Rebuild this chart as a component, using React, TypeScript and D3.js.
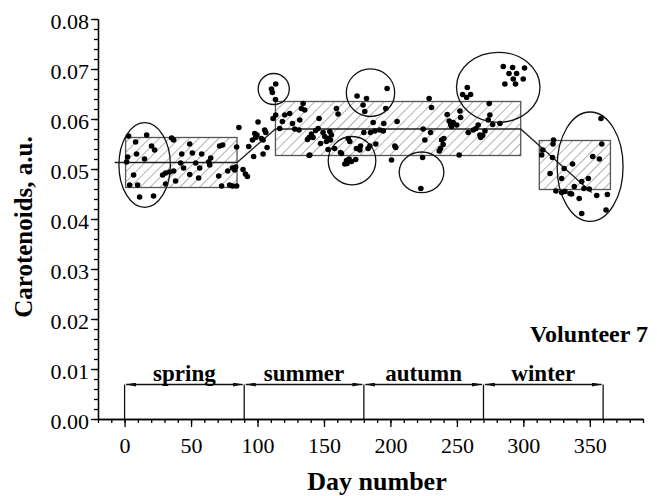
import React, { useEffect, useRef } from "react";
import * as d3 from "d3";

// [day, carotenoids]
const springPts: [number, number][] = [
  [3, 0.0566], [16.6, 0.0568], [8.3, 0.0554], [20.3, 0.0546], [22.6, 0.0538], [9, 0.053], [15, 0.052],
  [2.3, 0.0524], [1.5, 0.0514], [6.8, 0.0488], [3.8, 0.0468], [9.8, 0.0468], [11.3, 0.0444], [21.8, 0.0446],
  [35.4, 0.0562], [36.9, 0.0558], [49, 0.055], [43, 0.053], [51, 0.0532], [58, 0.053], [71.5, 0.0546],
  [73.8, 0.0548], [64.8, 0.0522], [63.3, 0.0514], [64, 0.0508], [42.2, 0.0512], [53.5, 0.0512], [56.5, 0.0502],
  [44.4, 0.0502], [28.6, 0.0488], [30.9, 0.0492], [33.9, 0.0494], [36.9, 0.0496], [38.4, 0.0476], [30.9, 0.047],
  [55.7, 0.0482], [70.8, 0.0486], [73, 0.0466], [79, 0.0468], [81.3, 0.0466], [84.3, 0.0466], [77.6, 0.0496],
  [81.3, 0.0502], [84.3, 0.0544], [83.6, 0.0504], [82.8, 0.0498], [49, 0.0489],
];
const transitionPts: [number, number][] = [
  [86, 0.0583], [100.4, 0.0594], [97.9, 0.0571], [99.6, 0.0568], [98.6, 0.0563], [96.2, 0.0558], [105.4, 0.0578],
  [106.2, 0.0573], [102.9, 0.0561], [104.2, 0.0558], [93.4, 0.0545], [97.1, 0.0525], [104.2, 0.053], [107.2, 0.0543],
  [89.1, 0.0499], [90.9, 0.049], [92.4, 0.0485], [113.7, 0.067], [110.5, 0.066], [111.2, 0.0653], [113.5, 0.0639],
];
const summerPts: [number, number][] = [
  [111.7, 0.0601], [113.7, 0.0608], [118.7, 0.0595], [116.7, 0.0581], [120.5, 0.0608], [124.2, 0.0611],
  [134.3, 0.0631], [135.5, 0.0618], [133, 0.0621], [126.3, 0.0591], [128, 0.058], [131.8, 0.0598], [138.8, 0.0563],
  [137.6, 0.0559], [131.2, 0.0578], [138.8, 0.0527], [146.3, 0.0601], [140.6, 0.057], [143.8, 0.0577],
  [145.6, 0.0581], [141.8, 0.0563], [149.3, 0.0573], [150.6, 0.0565], [151.9, 0.0555], [153.1, 0.0561],
  [154.4, 0.0575], [155.6, 0.0568], [154.9, 0.0558], [147.4, 0.0551], [153.1, 0.0539], [158, 0.0541],
  [159.4, 0.0621], [160.6, 0.061], [168.2, 0.0561], [169.4, 0.0555], [163.2, 0.0531], [162.4, 0.0533],
  [167, 0.0517], [168.9, 0.052], [170.7, 0.0515], [165.7, 0.051], [167.4, 0.0511], [173.9, 0.0519],
  [174.4, 0.0541], [176.4, 0.0541], [177.5, 0.0546], [177, 0.0538], [139.3, 0.0528],
];
const autumnPts: [number, number][] = [
  [180, 0.0573], [183.2, 0.0541], [184.5, 0.0546], [174.9, 0.0646], [182, 0.0641], [179.4, 0.0628],
  [180.7, 0.0615], [197.5, 0.0661], [196.5, 0.0621], [187, 0.0593], [188.3, 0.0576], [185, 0.0573],
  [195, 0.0591], [194.6, 0.0576], [192, 0.0578], [205, 0.0595], [189, 0.055], [203.3, 0.0546], [204, 0.0543],
  [200.8, 0.0518], [229.1, 0.0641], [230.9, 0.0623], [224.6, 0.058], [230.2, 0.0573], [225.9, 0.0558],
  [224.2, 0.0523], [222.9, 0.0461], [242.7, 0.0609], [244.2, 0.0596], [245.3, 0.0589], [247.2, 0.0593],
  [249.8, 0.0588], [246, 0.0585], [252.3, 0.0616], [252.8, 0.0603], [238.5, 0.0558], [239.7, 0.0549],
  [237.7, 0.0541], [236.7, 0.0536], [240.2, 0.0561], [251.7, 0.0528], [258.5, 0.0573], [262.3, 0.0578],
  [264.3, 0.0581], [266, 0.0588], [267.3, 0.0568], [267.9, 0.0563], [269.4, 0.0567], [271.1, 0.0576],
  [273.6, 0.0598], [274.8, 0.0608], [274.3, 0.0631], [276.9, 0.0589], [282.4, 0.0591],
  [257.8, 0.0663], [254.3, 0.0649], [257.3, 0.0643], [260.3, 0.0649],
];
const clusterPts: [number, number][] = [
  [284.9, 0.0705], [291.9, 0.0703], [300.9, 0.0702], [289.2, 0.0691], [294.9, 0.0691],
  [292.4, 0.068], [299.9, 0.068], [286.1, 0.067], [294.1, 0.067],
];
const winterPts: [number, number][] = [
  [322.7, 0.0558], [322.3, 0.055], [314.6, 0.0538], [313.8, 0.0528], [321.9, 0.0523], [320.1, 0.0491],
  [328.8, 0.0481], [330.7, 0.0501], [337, 0.051], [324.5, 0.0456], [328.8, 0.0453], [331.3, 0.0455],
  [335.1, 0.0451], [336.3, 0.045], [342, 0.0441], [338.3, 0.0465], [343.9, 0.0475], [345.6, 0.0461],
  [349.6, 0.046], [348.9, 0.0481], [352.2, 0.0525], [357.2, 0.052], [359, 0.055], [358.4, 0.0601],
  [355.2, 0.0447], [363.2, 0.0449], [362.2, 0.0418], [343.9, 0.0411],
];

// boxes: [dayStart, dayEnd, low, high]
const boxes: [number, number, number, number][] = [
  [0.75, 84.6, 0.0463, 0.0563],
  [113.5, 298, 0.0527, 0.0635],
  [312, 365.5, 0.0459, 0.0557],
];
// median / trend line
const trendLine: [number, number][] = [
  [-7.5, 0.0513], [84.6, 0.0513], [113.5, 0.058], [298, 0.058], [351.4, 0.0453],
];
// ellipses: [centerDay, centerValue, radiusDays, radiusValue]
const ellipses: [number, number, number, number][] = [
  [15.1, 0.0508, 19.35, 0.00846],
  [112.2, 0.066, 11.7, 0.0031],
  [185, 0.06526, 18.2, 0.00476],
  [171.1, 0.05166, 17.9, 0.00484],
  [223.4, 0.04934, 16.8, 0.00406],
  [281.1, 0.06634, 31.4, 0.007],
  [350.2, 0.05046, 24.8, 0.01094],
];
const seasons = ["spring", "summer", "autumn", "winter"];
const seasonBounds = [0, 90, 180, 270, 360];
const xMajor = [0, 50, 100, 150, 200, 250, 300, 350];
const yMajor = [0, 0.01, 0.02, 0.03, 0.04, 0.05, 0.06, 0.07, 0.08];

const FONT = "'Liberation Serif', 'Times New Roman', serif";

export default function App() {
  const svgRef = useRef<SVGSVGElement>(null);

  useEffect(() => {
    const svg = d3.select(svgRef.current);
    svg.selectAll("*").remove();

    const x = d3.scaleLinear().domain([-20, 390]).range([98, 643]);
    const y = d3.scaleLinear().domain([0, 0.08]).range([419, 19]);

    const defs = svg.append("defs");
    const pat = defs.append("pattern")
      .attr("id", "hatch")
      .attr("patternUnits", "userSpaceOnUse")
      .attr("width", 7).attr("height", 7)
      .attr("patternTransform", "rotate(45)");
    pat.append("line").attr("x1", 0).attr("y1", 0).attr("x2", 0).attr("y2", 7)
      .attr("stroke", "#666").attr("stroke-width", 1);

    defs.append("marker")
      .attr("id", "arrow")
      .attr("viewBox", "0 0 10 4")
      .attr("refX", 10).attr("refY", 2)
      .attr("markerWidth", 10).attr("markerHeight", 4)
      .attr("markerUnits", "userSpaceOnUse")
      .attr("orient", "auto-start-reverse")
      .append("path").attr("d", "M0,0L10,2L0,4Z").attr("fill", "#111");

    // boxes
    svg.append("g").selectAll("rect")
      .data(boxes)
      .join("rect")
      .attr("x", d => x(d[0]))
      .attr("y", d => y(d[3]))
      .attr("width", d => x(d[1]) - x(d[0]))
      .attr("height", d => y(d[2]) - y(d[3]))
      .attr("fill", "url(#hatch)")
      .attr("stroke", "#555")
      .attr("stroke-width", 1.3);

    const line = d3.line<[number, number]>().x(d => x(d[0])).y(d => y(d[1]));
    svg.append("path")
      .attr("d", line(trendLine))
      .attr("fill", "none")
      .attr("stroke", "#222")
      .attr("stroke-width", 1.3);

    // points
    const all = [...springPts, ...transitionPts, ...summerPts, ...autumnPts, ...clusterPts, ...winterPts];
    svg.append("g").selectAll("circle")
      .data(all)
      .join("circle")
      .attr("cx", d => x(d[0]))
      .attr("cy", d => y(d[1]))
      .attr("r", 2.8)
      .attr("fill", "#000");

    // ellipses
    svg.append("g").selectAll("ellipse")
      .data(ellipses)
      .join("ellipse")
      .attr("cx", d => x(d[0]))
      .attr("cy", d => y(d[1]))
      .attr("rx", d => x(d[2]) - x(0))
      .attr("ry", d => y(0) - y(d[3]))
      .attr("fill", "none")
      .attr("stroke", "#111")
      .attr("stroke-width", 1.3);

    // season brackets
    const arrowY = 0.0069;
    const br = svg.append("g");
    br.selectAll("line.v")
      .data(seasonBounds)
      .join("line")
      .attr("class", "v")
      .attr("x1", d => x(d)).attr("x2", d => x(d))
      .attr("y1", y(arrowY)).attr("y2", y(0))
      .attr("stroke", "#111").attr("stroke-width", 1.3);
    br.selectAll("line.a")
      .data(seasons)
      .join("line")
      .attr("class", "a")
      .attr("x1", (d, i) => x(seasonBounds[i]) + 1.5)
      .attr("x2", (d, i) => x(seasonBounds[i + 1]) - 1.5)
      .attr("y1", y(arrowY)).attr("y2", y(arrowY))
      .attr("stroke", "#111").attr("stroke-width", 1.3)
      .attr("marker-start", "url(#arrow)")
      .attr("marker-end", "url(#arrow)");
    br.selectAll("text")
      .data(seasons)
      .join("text")
      .attr("x", (d, i) => x((seasonBounds[i] + seasonBounds[i + 1]) / 2))
      .attr("y", y(arrowY) - 3.5)
      .attr("text-anchor", "middle")
      .attr("font-family", FONT)
      .attr("font-weight", "bold")
      .attr("font-size", 23)
      .text(d => d);

    // axes
    const styleAxis = (g: any) => {
      g.select(".domain").attr("stroke", "#000").attr("stroke-width", 1.3);
      g.selectAll(".tick line").attr("stroke", "#000").attr("stroke-width", 1.3);
      g.selectAll("text").attr("font-family", FONT).attr("font-size", 22).attr("fill", "#000");
    };
    svg.append("g")
      .attr("transform", `translate(0,${y(0)})`)
      .call(d3.axisBottom(x).tickValues(d3.range(-20, 391, 10)).tickSize(4).tickSizeOuter(0).tickFormat(() => ""))
      .call(styleAxis);
    svg.append("g")
      .attr("transform", `translate(0,${y(0)})`)
      .call(d3.axisBottom(x).tickValues(xMajor).tickSize(8).tickSizeOuter(0).tickPadding(10).tickFormat(d3.format("d")))
      .call(styleAxis);
    svg.append("g")
      .attr("transform", `translate(${x(-20)},0)`)
      .call(d3.axisLeft(y).tickValues(d3.range(0, 0.0801, 0.002)).tickSize(4).tickSizeOuter(0).tickFormat(() => ""))
      .call(styleAxis);
    const yAx = svg.append("g")
      .attr("transform", `translate(${x(-20)},0)`)
      .call(d3.axisLeft(y).tickValues(yMajor).tickSize(7).tickSizeOuter(0).tickPadding(2).tickFormat(d3.format(".2f")))
      .call(styleAxis);
    yAx.selectAll("text").attr("dy", "0.43em");

    svg.append("text")
      .attr("x", 377).attr("y", 490)
      .attr("text-anchor", "middle")
      .attr("font-family", FONT).attr("font-weight", "bold").attr("font-size", 26)
      .text("Day number");
    svg.append("text")
      .attr("transform", "translate(32,227) rotate(-90)")
      .attr("text-anchor", "middle")
      .attr("font-family", FONT).attr("font-weight", "bold").attr("font-size", 25)
      .text("Carotenoids, a.u.");
    svg.append("text")
      .attr("x", 648).attr("y", 342)
      .attr("text-anchor", "end")
      .attr("font-family", FONT).attr("font-weight", "bold").attr("font-size", 24)
      .text("Volunteer 7");
  }, []);

  return (
    <svg ref={svgRef} width={657} height={496}
      style={{ position: "absolute", left: 0, top: 0, background: "#fff" }} />
  );
}
